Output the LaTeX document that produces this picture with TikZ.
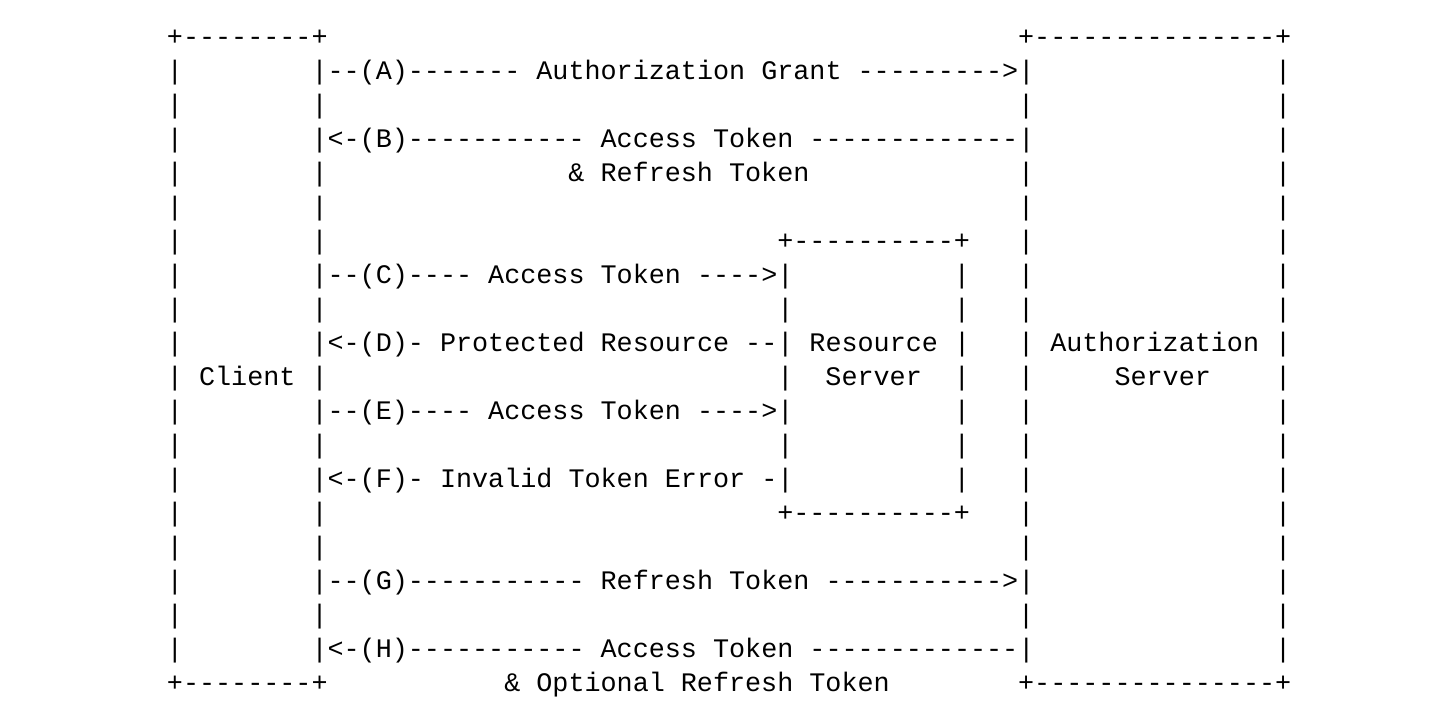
\documentclass[tikz,border=0pt]{standalone}
\usepackage{fontspec}
\setmonofont{Liberation Mono}
\tikzset{asc/.style={anchor=base west, inner sep=0pt, outer sep=0pt, text=black,
  font=\ttfamily\fontsize{26.77pt}{34pt}\selectfont}}
\newcommand\putseg[3]{\node[asc] (r#2c#1) at ({134.87+16.06*#1},{45+34.05*#2}) {#3};}
\newcommand\sidebars[1]{\putseg{2}{#1}{|}\putseg{11}{#1}{|}\putseg{55}{#1}{|}\putseg{71}{#1}{|}}
\begin{document}
\begin{tikzpicture}[x=1pt,y=-1pt]
\fill[white] (0,0) rectangle (1452,718);
\useasboundingbox (0,0) rectangle (1452,718);
% row 0
\putseg{2}{0}{+--------+}
\putseg{55}{0}{+---------------+}
% row 1
\putseg{2}{1}{|}
\putseg{11}{1}{|--(A)------- Authorization Grant --------->|}
\putseg{71}{1}{|}
% row 2
\sidebars{2}
% row 3
\putseg{2}{3}{|}
\putseg{11}{3}{|<-(B)----------- Access Token -------------|}
\putseg{71}{3}{|}
% row 4
\sidebars{4}
\putseg{27}{4}{\& Refresh Token}
% row 5
\sidebars{5}
% row 6
\sidebars{6}
\putseg{40}{6}{+----------+}
% row 7
\putseg{2}{7}{|}
\putseg{11}{7}{|--(C)---- Access Token ---->|}
\putseg{51}{7}{|}
\putseg{55}{7}{|}
\putseg{71}{7}{|}
% row 8
\sidebars{8}
\putseg{40}{8}{|}
\putseg{51}{8}{|}
% row 9
\putseg{2}{9}{|}
\putseg{11}{9}{|<-(D)- Protected Resource --| Resource |}
\putseg{55}{9}{| Authorization |}
% row 10
\putseg{2}{10}{| Client |}
\putseg{40}{10}{|}
\putseg{43}{10}{Server}
\putseg{51}{10}{|}
\putseg{55}{10}{|}
\putseg{61}{10}{Server}
\putseg{71}{10}{|}
% row 11
\putseg{2}{11}{|}
\putseg{11}{11}{|--(E)---- Access Token ---->|}
\putseg{51}{11}{|}
\putseg{55}{11}{|}
\putseg{71}{11}{|}
% row 12
\sidebars{12}
\putseg{40}{12}{|}
\putseg{51}{12}{|}
% row 13
\putseg{2}{13}{|}
\putseg{11}{13}{|<-(F)- Invalid Token Error -|}
\putseg{51}{13}{|}
\putseg{55}{13}{|}
\putseg{71}{13}{|}
% row 14
\sidebars{14}
\putseg{40}{14}{+----------+}
% row 15
\sidebars{15}
% row 16
\putseg{2}{16}{|}
\putseg{11}{16}{|--(G)----------- Refresh Token ----------->|}
\putseg{71}{16}{|}
% row 17
\sidebars{17}
% row 18
\putseg{2}{18}{|}
\putseg{11}{18}{|<-(H)----------- Access Token -------------|}
\putseg{71}{18}{|}
% row 19
\putseg{2}{19}{+--------+}
\putseg{23}{19}{\& Optional Refresh Token}
\putseg{55}{19}{+---------------+}
\end{tikzpicture}
\end{document}
